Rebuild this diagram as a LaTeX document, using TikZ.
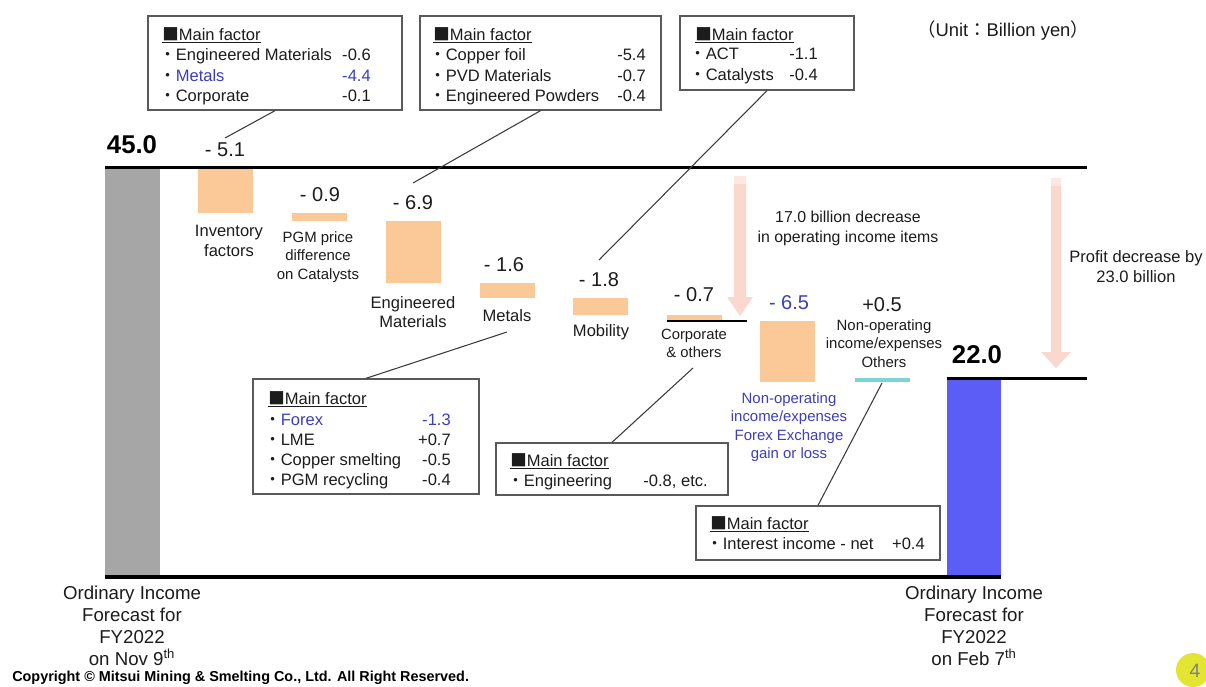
\documentclass[tikz,border=0pt]{standalone}
\usepackage{fontspec}
\setmainfont{Liberation Sans}
\newfontfamily\cjk{Noto Sans CJK JP}
\usetikzlibrary{fit}
\definecolor{txt}{RGB}{28,28,28}
\definecolor{barorange}{RGB}{251,201,152}
\definecolor{bargray}{RGB}{166,166,166}
\definecolor{barblue}{RGB}{92,92,246}
\definecolor{bluetxt}{RGB}{62,62,185}
\definecolor{cyanline}{RGB}{125,212,212}
\definecolor{arrowpink}{RGB}{250,216,206}
\definecolor{boxline}{RGB}{90,90,90}
\definecolor{conline}{RGB}{60,60,60}
\definecolor{pageyellow}{RGB}{228,228,50}
\newcommand\mybul{{\cjk ・}}
\newcommand\mfhead{\underline{{\cjk ■}Main factor}}
\begin{document}
\begin{tikzpicture}[x=0.75pt,y=-0.75pt,
  bt/.style={inner sep=0, text=txt, font=\fontsize{12.4}{15}\selectfont},
  btl/.style={bt, anchor=base west},
  btr/.style={bt, anchor=base east},
  num/.style={inner sep=0, text=txt, font=\fontsize{15}{18}\selectfont},
  big/.style={inner sep=0, text=black, font=\bfseries\fontsize{19.3}{22}\selectfont},
  lab/.style={inner sep=0, text=txt, align=center, font=\fontsize{12.4}{15}\selectfont},
  slab/.style={inner sep=0, text=txt, align=center, font=\fontsize{11.2}{13.8}\selectfont},
  fbox/.style={draw=boxline, line width=1pt, inner sep=0},
  con/.style={draw=conline, line width=0.8pt},
  bar/.style={fill=barorange},
  thickline/.style={line width=2.25pt, black},
  parrow/.style={fill=arrowpink}
]
\useasboundingbox (0,0) rectangle (1206,686);
\fill[white] (0,0) rectangle (1206,686);

% pink arrows
\fill[parrow] (734,176) -- (746,176) -- (746,297) -- (753,297) -- (740,316) -- (727,297) -- (734,297) -- cycle;
\fill[parrow] (1051,178) -- (1061,178) -- (1061,352) -- (1071,352) -- (1056,368) -- (1041,352) -- (1051,352) -- cycle;
\fill[white, opacity=0.4] (733,176) rectangle (747,184);
\fill[white, opacity=0.4] (1050,178) rectangle (1062,186);

% bars
\fill[bargray] (105,167) rectangle (160,577);
\fill[bar] (198,168) rectangle (253,213);
\fill[bar] (292,213) rectangle (347,221);
\fill[bar] (386,221) rectangle (441,283);
\fill[bar] (480,283) rectangle (535,298);
\fill[bar] (573,298) rectangle (628,315);
\fill[bar] (667,315) rectangle (722,321);
\fill[bar] (760,321) rectangle (815,382);
\draw[cyanline, line width=2.4pt] (855,380) -- (910,380);
\fill[barblue] (947,378) rectangle (1001,577);

% level lines
\draw[thickline] (105,167) -- (1087,167);
\draw[thickline] (947,378) -- (1087,378);
\draw[line width=3.4pt, black] (105,577) -- (1001,577);
\draw[line width=2pt, black] (667,321) -- (747,321);

% big values
\node[big] (v45) at (132,145) {45.0};
\node[big] (v22) at (977,355) {22.0};

% step values
\node[num] (n1) at (225,150) {- 5.1};
\node[num] (n2) at (320,195) {- 0.9};
\node[num] (n3) at (413,203) {- 6.9};
\node[num] (n4) at (504,265) {- 1.6};
\node[num] (n5) at (599,280) {- 1.8};
\node[num] (n6) at (694,295) {- 0.7};
\node[num, text=bluetxt] (n7) at (789,303) {- 6.5};
\node[num] (n8) at (882,305) {+0.5};

% bar labels
\node[lab] (lInv) at (229,241) {Inventory\\factors};
\node[slab] (lPGM) at (318,257) {PGM price\\difference\\on Catalysts};
\node[lab, font=\fontsize{12.4}{14.6}\selectfont] (lEM) at (413,312) {Engineered\\Materials};
\node[lab] (lMet) at (507,316) {Metals};
\node[lab] (lMob) at (601,332) {Mobility};
\node[slab, font=\fontsize{11.1}{13.5}\selectfont] (lCorp) at (694,343) {Corporate\\\& others};
\node[slab, text=bluetxt] (lFx) at (789,427) {Non-operating\\income/expenses\\Forex Exchange\\gain or loss};
\node[slab] (lOth) at (884,343.5) {Non-operating\\income/expenses\\Others};

% annotations
\node[lab, font=\fontsize{11.9}{15}\selectfont] (a17) at (848,228) {17.0 billion decrease\\in operating income items};
\node[lab] (a23) at (1136,267) {Profit decrease by\\23.0 billion};
\node[bt, font=\fontsize{13.8}{16}\selectfont] (unit) at (1003,31) {{\cjk （}Unit{\cjk ：}Billion yen{\cjk ）}};

% bottom labels
\node[lab, font=\fontsize{14}{16.5}\selectfont] (lstart) at (132,626) {Ordinary Income\\Forecast for\\FY2022\\on Nov 9\textsuperscript{th}};
\node[lab, font=\fontsize{14}{16.5}\selectfont] (lend) at (974,626) {Ordinary Income\\Forecast for\\FY2022\\on Feb 7\textsuperscript{th}};

% copyright
\node[inner sep=0, anchor=west, text=black, font=\bfseries\fontsize{10.8}{13}\selectfont] (copy) at (12,678) {Copyright © Mitsui Mining \& Smelting Co., Ltd. All Right Reserved.};

% page number
\fill[pageyellow] (1193,670) circle (17);
\node[inner sep=0, text=gray, font=\fontsize{14.5}{16}\selectfont] (pg) at (1195,671) {4};

% factor boxes
\node[fbox, fit={(148,16) (402,110)}] (b1) {};
\node[btl] (b1h) at (162,40) {\mfhead};
\node[btl] (b1a) at (159,60) {\mybul Engineered Materials};
\node[btr] (b1av) at (371,60) {-0.6};
\node[btl] (b1b) at (159,81) {\mybul\textcolor{bluetxt}{Metals}};
\node[btr, text=bluetxt] (b1bv) at (371,81) {-4.4};
\node[btl] (b1c) at (159,101) {\mybul Corporate};
\node[btr] (b1cv) at (371,101) {-0.1};

\node[fbox, fit={(420,16) (661,110)}] (b2) {};
\node[btl] (b2h) at (433,40) {\mfhead};
\node[btl] (b2a) at (429,60) {\mybul Copper foil};
\node[btr] (b2av) at (646,60) {-5.4};
\node[btl] (b2b) at (429,81) {\mybul PVD Materials};
\node[btr] (b2bv) at (646,81) {-0.7};
\node[btl] (b2c) at (429,101) {\mybul Engineered Powders};
\node[btr] (b2cv) at (646,101) {-0.4};

\node[fbox, fit={(680,16) (854,90)}] (b3) {};
\node[btl] (b3h) at (695,40) {\mfhead};
\node[btl] (b3a) at (689,59) {\mybul ACT};
\node[btr] (b3av) at (818,59) {-1.1};
\node[btl] (b3b) at (689,80) {\mybul Catalysts};
\node[btr] (b3bv) at (818,80) {-0.4};

\node[fbox, fit={(253,379) (479,494)}] (b4) {};
\node[btl] (b4h) at (268,404) {\mfhead};
\node[btl] (b4a) at (264,425) {\mybul\textcolor{bluetxt}{Forex}};
\node[btr, text=bluetxt] (b4av) at (451,425) {-1.3};
\node[btl] (b4b) at (264,445) {\mybul LME};
\node[btr] (b4bv) at (451,445) {+0.7};
\node[btl] (b4c) at (264,465) {\mybul Copper smelting};
\node[btr] (b4cv) at (451,465) {-0.5};
\node[btl] (b4d) at (264,485) {\mybul PGM recycling};
\node[btr] (b4dv) at (451,485) {-0.4};

\node[fbox, fit={(496,443) (728,495)}] (b5) {};
\node[btl] (b5h) at (510,466) {\mfhead};
\node[btl] (b5a) at (507,486) {\mybul Engineering};
\node[btr] (b5av) at (708,486) {-0.8, etc.};

\node[fbox, fit={(696,506) (940,560)}] (b6) {};
\node[btl] (b6h) at (710,529) {\mfhead};
\node[btl] (b6a) at (706,549) {\mybul Interest income - net};
\node[btr] (b6av) at (925,549) {+0.4};

% connector ends
\coordinate (e1) at (225,138);
\coordinate (e2) at (413,183);
\coordinate (e3) at (599,260);
\coordinate (e4) at (507,332);
\coordinate (e5) at (693,368);
\coordinate (e6) at (882,383);
\draw[con] (b1.south) -- (e1);
\draw[con] (b2.south) -- (e2);
\draw[con] (b3.south) -- (e3);
\draw[con] (b4.north) -- (e4);
\draw[con] (b5.north) -- (e5);
\draw[con] (b6.north) -- (e6);
\end{tikzpicture}
\end{document}
